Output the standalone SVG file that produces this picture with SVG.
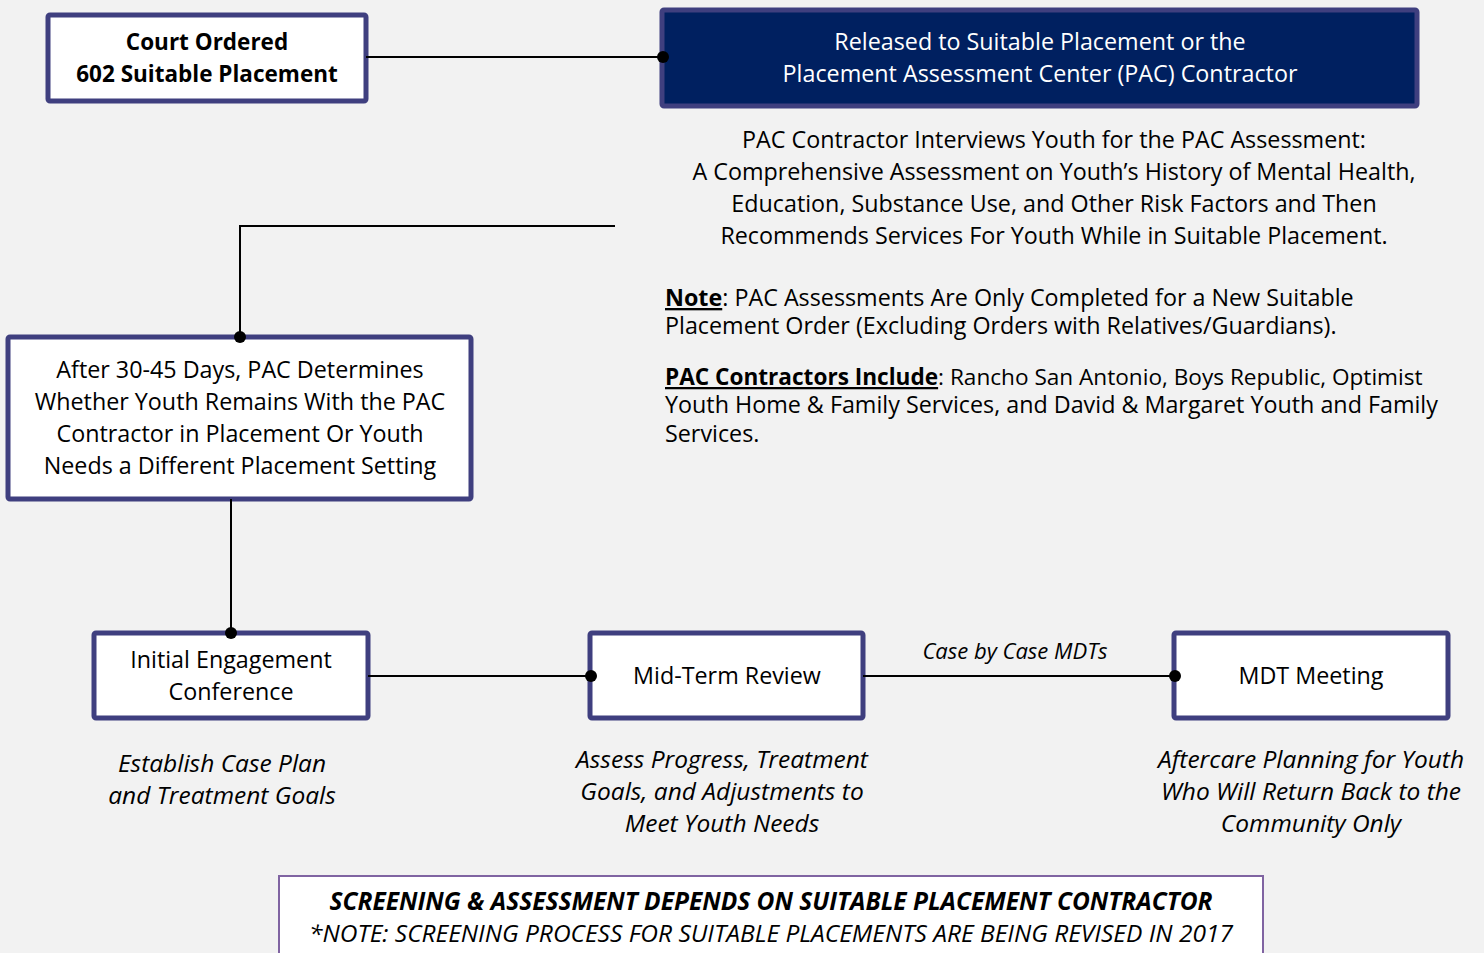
<svg xmlns="http://www.w3.org/2000/svg" width="1484" height="953" viewBox="0 0 1484 953">
<style>
text{font-family:"Open Sans","Liberation Sans",sans-serif;fill:#000}
.box{fill:#fff;stroke:#3F3F7F;stroke-width:5}
.c{text-anchor:middle}
.t{font-size:23.3px}
.bt{font-size:22.5px;font-weight:bold}
.it{font-style:italic;font-size:24.5px}
.b{font-weight:bold}
.conn{stroke:#000;stroke-width:2;fill:none}
.dot{fill:#000}
</style>
<rect width="1484" height="953" fill="#F2F2F2"/>
<g id="court">
<rect class="box" x="48" y="15" width="318" height="86" rx="2"/>
<text class="c bt" x="207" y="50">Court Ordered</text>
<text class="c bt" x="207" y="82">602 Suitable Placement</text>
</g>
<g id="released">
<rect x="662" y="10" width="755" height="96" fill="#002060" stroke="#3F3F7F" stroke-width="5" rx="2"/>
<text class="c t" x="1040" y="50" style="fill:#fff">Released to Suitable Placement or the</text>
<text class="c t" x="1040" y="82" style="fill:#fff">Placement Assessment Center (PAC) Contractor</text>
</g>
<g id="pac-text">
<text class="c t" x="1054" y="148">PAC Contractor Interviews Youth for the PAC Assessment:</text>
<text class="c t" x="1054" y="180">A Comprehensive Assessment on Youth’s History of Mental Health,</text>
<text class="c t" x="1054" y="212">Education, Substance Use, and Other Risk Factors and Then</text>
<text class="c t" x="1054" y="244">Recommends Services For Youth While in Suitable Placement.</text>
<text class="t" x="665" y="306"><tspan class="b" text-decoration="underline">Note</tspan>: PAC Assessments Are Only Completed for a New Suitable</text>
<text class="t" x="665" y="334">Placement Order (Excluding Orders with Relatives/Guardians).</text>
<text x="665" y="385" font-size="22.6"><tspan class="b" text-decoration="underline">PAC Contractors Include</tspan>: Rancho San Antonio, Boys Republic, Optimist</text>
<text class="t" x="665" y="413">Youth Home &amp; Family Services, and David &amp; Margaret Youth and Family</text>
<text class="t" x="665" y="442">Services.</text>
</g>
<g id="after">
<rect class="box" x="8" y="337" width="463" height="162" rx="2"/>
<text class="c t" x="240" y="378">After 30-45 Days, PAC Determines</text>
<text class="c t" x="240" y="410">Whether Youth Remains With the PAC</text>
<text class="c t" x="240" y="442">Contractor in Placement Or Youth</text>
<text class="c t" x="240" y="474">Needs a Different Placement Setting</text>
</g>
<g id="initial">
<rect class="box" x="94" y="633" width="274" height="85" rx="2"/>
<text class="c t" x="231" y="668">Initial Engagement</text>
<text class="c t" x="231" y="700">Conference</text>
<text class="c it" x="222" y="772">Establish Case Plan</text>
<text class="c it" x="222" y="804">and Treatment Goals</text>
</g>
<g id="midterm">
<rect class="box" x="590" y="633" width="273" height="85" rx="2"/>
<text class="c t" x="727" y="684">Mid-Term Review</text>
<text class="c it" x="722" y="768">Assess Progress, Treatment</text>
<text class="c it" x="722" y="800">Goals, and Adjustments to</text>
<text class="c it" x="722" y="832">Meet Youth Needs</text>
</g>
<g id="mdt">
<rect class="box" x="1174" y="633" width="274" height="85" rx="2"/>
<text class="c t" x="1311" y="684">MDT Meeting</text>
<text class="c it" x="1311" y="768">Aftercare Planning for Youth</text>
<text class="c it" x="1311" y="800">Who Will Return Back to the</text>
<text class="c it" x="1311" y="832">Community Only</text>
</g>
<g id="footer">
<rect x="279" y="876" width="984" height="90" fill="#fff" stroke="#8064A2" stroke-width="2"/>
<text class="c b it" x="771" y="910" font-size="23.8">SCREENING &amp; ASSESSMENT DEPENDS ON SUITABLE PLACEMENT CONTRACTOR</text>
<text class="c it" x="771" y="942" font-size="25">*NOTE: SCREENING PROCESS FOR SUITABLE PLACEMENTS ARE BEING REVISED IN 2017</text>
</g>
<g id="connectors">
<path class="conn" d="M366 57H663"/>
<circle class="dot" cx="663" cy="57" r="6"/>
<path class="conn" d="M615 226H240V337"/>
<circle class="dot" cx="240" cy="337" r="6"/>
<path class="conn" d="M231 499V633"/>
<circle class="dot" cx="231" cy="633" r="6"/>
<path class="conn" d="M368 676H591"/>
<circle class="dot" cx="591" cy="676" r="6"/>
<path class="conn" d="M863 676H1175"/>
<circle class="dot" cx="1175" cy="676" r="6"/>
<text class="c" x="1015" y="659" font-size="22" font-style="italic">Case by Case MDTs</text>
</g>
</svg>
